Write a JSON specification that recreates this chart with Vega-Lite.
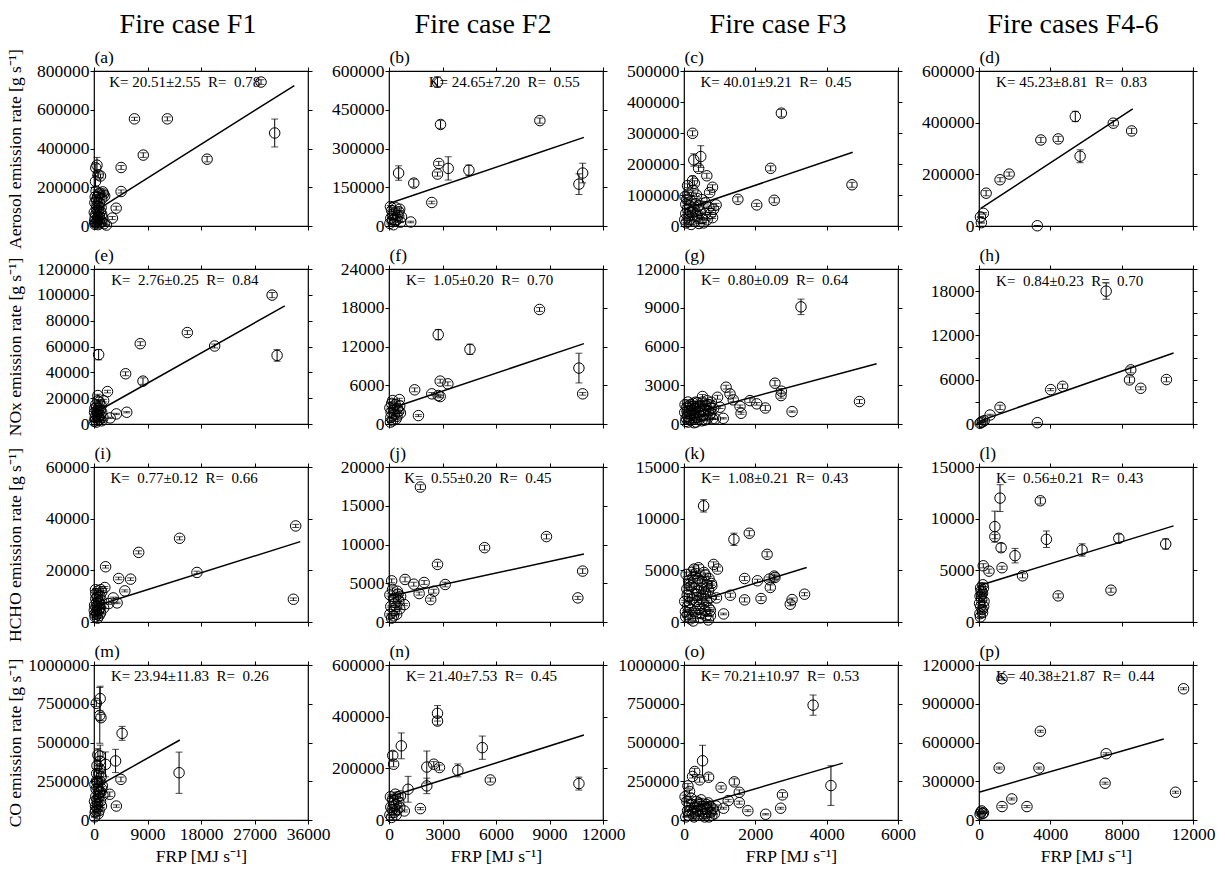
{
"$schema":"https://vega.github.io/schema/vega-lite/v6.json",
"background":"white",
"padding":{"left":5,"top":9,"right":5,"bottom":0},
"config":{"font":"Liberation Serif","view":{"stroke":"black","strokeWidth":1.2},
"axis":{"grid":false,"domain":false,"tickColor":"black","tickSize":4,"tickWidth":1,"labelFont":"Liberation Serif","labelFontSize":17.5,"labelColor":"black","labelPadding":1,"titleFont":"Liberation Serif","titleFontSize":17.5,"titleFontWeight":"normal","titleColor":"black","labelFlush":false,"labelOverlap":false},
"title":{"font":"Liberation Serif","fontSize":28,"fontWeight":"normal","color":"black","anchor":"middle"}},
"datasets":{"d":[
{"p":"a","k":"e","x":28100,"y":743000,"l":731000,"h":755000},
{"p":"a","k":"e","x":30400,"y":480000,"l":408000,"h":552000},
{"p":"a","k":"e","x":19030,"y":345000,"l":331000,"h":359000},
{"p":"a","k":"e","x":12340,"y":553000,"l":543000,"h":563000},
{"p":"a","k":"e","x":6810,"y":553000,"l":545000,"h":561000},
{"p":"a","k":"e","x":8290,"y":366000,"l":354000,"h":378000},
{"p":"a","k":"e","x":4560,"y":302000,"l":292000,"h":312000},
{"p":"a","k":"e","x":4560,"y":178000,"l":170000,"h":186000},
{"p":"a","k":"e","x":3730,"y":92000,"l":82000,"h":102000},
{"p":"a","k":"e","x":3090,"y":41000,"l":33000,"h":49000},
{"p":"a","k":"e","x":500,"y":314000,"l":274000,"h":354000},
{"p":"a","k":"e","x":300,"y":300000,"l":280000,"h":320000},
{"p":"a","k":"e","x":700,"y":264000,"l":249000,"h":279000},
{"p":"a","k":"e","x":1090,"y":258000,"l":248000,"h":268000},
{"p":"a","k":"e","x":1480,"y":176000,"l":168000,"h":184000},
{"p":"a","k":"e","x":1600,"y":165000,"l":159000,"h":171000},
{"p":"a","k":"e","x":1800,"y":155000,"l":149000,"h":161000},
{"p":"a","k":"e","x":1300,"y":140000,"l":135000,"h":145000},
{"p":"a","k":"e","x":900,"y":121000,"l":115000,"h":127000},
{"p":"a","k":"e","x":500,"y":104000,"l":99000,"h":109000},
{"p":"a","k":"e","x":700,"y":80000,"l":75000,"h":85000},
{"p":"a","k":"e","x":300,"y":60000,"l":56000,"h":64000},
{"p":"a","k":"e","x":1300,"y":60000,"l":56000,"h":64000},
{"p":"a","k":"e","x":200,"y":43000,"l":40000,"h":46000},
{"p":"a","k":"e","x":1000,"y":35000,"l":32000,"h":38000},
{"p":"a","k":"e","x":1300,"y":21000,"l":18000,"h":24000},
{"p":"a","k":"e","x":450,"y":18000,"l":16000,"h":20000},
{"p":"a","k":"e","x":150,"y":9000,"l":7000,"h":11000},
{"p":"a","k":"e","x":700,"y":7000,"l":5000,"h":9000},
{"p":"a","k":"e","x":1700,"y":12000,"l":10000,"h":14000},
{"p":"a","k":"e","x":100,"y":25000,"l":23000,"h":27000},
{"p":"a","k":"e","x":900,"y":50000,"l":47000,"h":53000},
{"p":"a","k":"e","x":600,"y":150000,"l":145000,"h":155000},
{"p":"a","k":"e","x":2100,"y":5000,"l":4000,"h":6000},
{"p":"a","k":"e","x":350,"y":180000,"l":174000,"h":186000},
{"p":"a","k":"e","x":250,"y":230000,"l":200000,"h":260000},
{"p":"a","k":"e","x":150,"y":120000,"l":115000,"h":125000},
{"p":"a","k":"e","x":400,"y":90000,"l":86000,"h":94000},
{"p":"a","k":"e","x":800,"y":100000,"l":95000,"h":105000},
{"p":"a","k":"e","x":1100,"y":75000,"l":71000,"h":79000},
{"p":"a","k":"e","x":200,"y":150000,"l":144000,"h":156000},
{"p":"a","k":"e","x":650,"y":45000,"l":42000,"h":48000},
{"p":"a","k":"e","x":1000,"y":15000,"l":13000,"h":17000},
{"p":"a","k":"e","x":550,"y":30000,"l":27000,"h":33000},
{"p":"a","k":"e","x":1200,"y":95000,"l":91000,"h":99000},
{"p":"a","k":"e","x":50,"y":70000,"l":67000,"h":73000},
{"p":"a","k":"e","x":800,"y":165000,"l":159000,"h":171000},
{"p":"a","k":"e","x":400,"y":135000,"l":130000,"h":140000},
{"p":"a","k":"e","x":1500,"y":40000,"l":37000,"h":43000},
{"p":"a","k":"e","x":250,"y":15000,"l":13000,"h":17000},
{"p":"a","k":"e","x":950,"y":170000,"l":164000,"h":176000},
{"p":"a","k":"l","x":600,"y":85000},{"p":"a","k":"l","x":33700,"y":725000},
{"p":"a","k":"t","x":2560,"y":744000,"t":"K= 20.51±2.55\u00a0\u00a0R=\u00a0\u00a00.78"},
{"p":"b","k":"e","x":2720,"y":557000,"l":537000,"h":577000},
{"p":"b","k":"e","x":2890,"y":393000,"l":378000,"h":408000},
{"p":"b","k":"e","x":8460,"y":408000,"l":398000,"h":418000},
{"p":"b","k":"e","x":540,"y":205000,"l":177000,"h":233000},
{"p":"b","k":"e","x":1390,"y":166000,"l":151000,"h":181000},
{"p":"b","k":"e","x":2400,"y":91000,"l":86000,"h":96000},
{"p":"b","k":"e","x":2720,"y":201000,"l":193000,"h":209000},
{"p":"b","k":"e","x":2790,"y":242000,"l":234000,"h":250000},
{"p":"b","k":"e","x":3320,"y":223000,"l":178000,"h":268000},
{"p":"b","k":"e","x":4480,"y":216000,"l":196000,"h":236000},
{"p":"b","k":"e","x":10650,"y":162000,"l":122000,"h":202000},
{"p":"b","k":"e","x":10860,"y":205000,"l":167000,"h":243000},
{"p":"b","k":"e","x":1220,"y":15500,"l":12500,"h":18500},
{"p":"b","k":"e","x":600,"y":65000,"l":60000,"h":70000},
{"p":"b","k":"e","x":500,"y":40000,"l":35000,"h":45000},
{"p":"b","k":"e","x":700,"y":35000,"l":31000,"h":39000},
{"p":"b","k":"e","x":300,"y":50000,"l":46000,"h":54000},
{"p":"b","k":"e","x":150,"y":60000,"l":57000,"h":63000},
{"p":"b","k":"e","x":100,"y":30000,"l":27000,"h":33000},
{"p":"b","k":"e","x":350,"y":20000,"l":17000,"h":23000},
{"p":"b","k":"e","x":50,"y":10000,"l":8000,"h":12000},
{"p":"b","k":"e","x":250,"y":5000,"l":4000,"h":6000},
{"p":"b","k":"e","x":450,"y":25000,"l":22000,"h":28000},
{"p":"b","k":"e","x":200,"y":45000,"l":41000,"h":49000},
{"p":"b","k":"e","x":80,"y":75000,"l":71000,"h":79000},
{"p":"b","k":"e","x":400,"y":70000,"l":66000,"h":74000},
{"p":"b","k":"e","x":650,"y":15000,"l":13000,"h":17000},
{"p":"b","k":"e","x":200,"y":25000,"l":23000,"h":27000},
{"p":"b","k":"e","x":550,"y":55000,"l":51000,"h":59000},
{"p":"b","k":"l","x":0,"y":87000},{"p":"b","k":"l","x":10930,"y":343000},
{"p":"b","k":"t","x":2230,"y":558000,"t":"K= 24.65±7.20\u00a0\u00a0R=\u00a0\u00a00.55"},
{"p":"c","k":"e","x":2730,"y":364000,"l":352000,"h":376000},
{"p":"c","k":"e","x":240,"y":299000,"l":291000,"h":307000},
{"p":"c","k":"e","x":275,"y":213000,"l":193000,"h":233000},
{"p":"c","k":"e","x":470,"y":224000,"l":189000,"h":259000},
{"p":"c","k":"e","x":410,"y":186000,"l":176000,"h":196000},
{"p":"c","k":"e","x":640,"y":162000,"l":154000,"h":170000},
{"p":"c","k":"e","x":240,"y":146000,"l":131000,"h":161000},
{"p":"c","k":"e","x":290,"y":138000,"l":130000,"h":146000},
{"p":"c","k":"e","x":800,"y":125000,"l":117000,"h":133000},
{"p":"c","k":"e","x":720,"y":108000,"l":102000,"h":114000},
{"p":"c","k":"e","x":2430,"y":186000,"l":178000,"h":194000},
{"p":"c","k":"e","x":4710,"y":133000,"l":125000,"h":141000},
{"p":"c","k":"e","x":1510,"y":86000,"l":78000,"h":94000},
{"p":"c","k":"e","x":2040,"y":68000,"l":63000,"h":73000},
{"p":"c","k":"e","x":2530,"y":83000,"l":75000,"h":91000},
{"p":"c","k":"e","x":900,"y":68000,"l":63000,"h":73000},
{"p":"c","k":"e","x":830,"y":54000,"l":50000,"h":58000},
{"p":"c","k":"e","x":800,"y":27000,"l":24000,"h":30000},
{"p":"c","k":"e","x":500,"y":24000,"l":21000,"h":27000},
{"p":"c","k":"e","x":110,"y":103000,"l":98000,"h":108000},
{"p":"c","k":"e","x":80,"y":86000,"l":81000,"h":91000},
{"p":"c","k":"e","x":165,"y":65000,"l":61000,"h":69000},
{"p":"c","k":"e","x":330,"y":72000,"l":67000,"h":77000},
{"p":"c","k":"e","x":50,"y":40000,"l":37000,"h":43000},
{"p":"c","k":"e","x":150,"y":20000,"l":18000,"h":22000},
{"p":"c","k":"e","x":250,"y":45000,"l":42000,"h":48000},
{"p":"c","k":"e","x":380,"y":30000,"l":27000,"h":33000},
{"p":"c","k":"e","x":60,"y":10000,"l":9000,"h":11000},
{"p":"c","k":"e","x":200,"y":5000,"l":4000,"h":6000},
{"p":"c","k":"e","x":450,"y":50000,"l":46000,"h":54000},
{"p":"c","k":"e","x":600,"y":40000,"l":37000,"h":43000},
{"p":"c","k":"e","x":100,"y":55000,"l":52000,"h":58000},
{"p":"c","k":"e","x":300,"y":15000,"l":13000,"h":17000},
{"p":"c","k":"e","x":550,"y":10000,"l":9000,"h":11000},
{"p":"c","k":"e","x":30,"y":95000,"l":91000,"h":99000},
{"p":"c","k":"e","x":700,"y":60000,"l":56000,"h":64000},
{"p":"c","k":"e","x":350,"y":100000,"l":95000,"h":105000},
{"p":"c","k":"e","x":100,"y":130000,"l":124000,"h":136000},
{"p":"c","k":"e","x":200,"y":80000,"l":75000,"h":85000},
{"p":"c","k":"e","x":400,"y":65000,"l":61000,"h":69000},
{"p":"c","k":"e","x":500,"y":85000,"l":80000,"h":90000},
{"p":"c","k":"e","x":650,"y":20000,"l":18000,"h":22000},
{"p":"c","k":"e","x":120,"y":30000,"l":28000,"h":32000},
{"p":"c","k":"e","x":280,"y":55000,"l":52000,"h":58000},
{"p":"c","k":"e","x":420,"y":8000,"l":7000,"h":9000},
{"p":"c","k":"e","x":750,"y":40000,"l":37000,"h":43000},
{"p":"c","k":"e","x":50,"y":70000,"l":66000,"h":74000},
{"p":"c","k":"e","x":350,"y":35000,"l":32000,"h":38000},
{"p":"c","k":"e","x":250,"y":115000,"l":109000,"h":121000},
{"p":"c","k":"e","x":180,"y":45000,"l":42000,"h":48000},
{"p":"c","k":"e","x":600,"y":75000,"l":71000,"h":79000},
{"p":"c","k":"e","x":20,"y":20000,"l":18000,"h":22000},
{"p":"c","k":"l","x":100,"y":57000},{"p":"c","k":"l","x":4730,"y":238000},
{"p":"c","k":"t","x":462,"y":465000,"t":"K= 40.01±9.21\u00a0\u00a0R=\u00a0\u00a00.45"},
{"p":"d","k":"e","x":244,"y":49000,"l":46000,"h":52000},
{"p":"d","k":"e","x":133,"y":13000,"l":11000,"h":15000},
{"p":"d","k":"e","x":400,"y":127000,"l":117000,"h":137000},
{"p":"d","k":"e","x":1180,"y":179000,"l":171000,"h":187000},
{"p":"d","k":"e","x":1690,"y":201000,"l":193000,"h":209000},
{"p":"d","k":"e","x":3470,"y":333000,"l":323000,"h":343000},
{"p":"d","k":"e","x":4440,"y":337000,"l":327000,"h":347000},
{"p":"d","k":"e","x":5400,"y":424000,"l":404000,"h":444000},
{"p":"d","k":"e","x":5670,"y":270000,"l":245000,"h":295000},
{"p":"d","k":"e","x":7530,"y":398000,"l":388000,"h":408000},
{"p":"d","k":"e","x":8560,"y":368000,"l":358000,"h":378000},
{"p":"d","k":"e","x":3270,"y":1000,"l":0,"h":2000},
{"p":"d","k":"e","x":80,"y":35000,"l":33000,"h":37000},
{"p":"d","k":"l","x":100,"y":68000},{"p":"d","k":"l","x":8620,"y":453000},
{"p":"d","k":"t","x":960,"y":558000,"t":"K= 45.23±8.81\u00a0\u00a0R=\u00a0\u00a00.83"},
{"p":"e","k":"e","x":29960,"y":99800,"l":97800,"h":101800},
{"p":"e","k":"e","x":30800,"y":53100,"l":48600,"h":57600},
{"p":"e","k":"e","x":15700,"y":70800,"l":69300,"h":72300},
{"p":"e","k":"e","x":20300,"y":60400,"l":58900,"h":61900},
{"p":"e","k":"e","x":7780,"y":62200,"l":60700,"h":63700},
{"p":"e","k":"e","x":5320,"y":38900,"l":37400,"h":40400},
{"p":"e","k":"e","x":8240,"y":33200,"l":30700,"h":35700},
{"p":"e","k":"e","x":780,"y":53700,"l":49700,"h":57700},
{"p":"e","k":"e","x":2270,"y":25100,"l":24100,"h":26100},
{"p":"e","k":"e","x":1620,"y":18100,"l":17100,"h":19100},
{"p":"e","k":"e","x":650,"y":22000,"l":21000,"h":23000},
{"p":"e","k":"e","x":5510,"y":9100,"l":8600,"h":9600},
{"p":"e","k":"e","x":3760,"y":7800,"l":7300,"h":8300},
{"p":"e","k":"e","x":2720,"y":4700,"l":4200,"h":5200},
{"p":"e","k":"e","x":1300,"y":9000,"l":8500,"h":9500},
{"p":"e","k":"e","x":300,"y":15000,"l":14200,"h":15800},
{"p":"e","k":"e","x":800,"y":12000,"l":11300,"h":12700},
{"p":"e","k":"e","x":500,"y":10000,"l":9400,"h":10600},
{"p":"e","k":"e","x":1000,"y":7000,"l":6500,"h":7500},
{"p":"e","k":"e","x":200,"y":5000,"l":4600,"h":5400},
{"p":"e","k":"e","x":700,"y":3000,"l":2700,"h":3300},
{"p":"e","k":"e","x":400,"y":1500,"l":1300,"h":1700},
{"p":"e","k":"e","x":1200,"y":14000,"l":13300,"h":14700},
{"p":"e","k":"e","x":100,"y":9000,"l":8500,"h":9500},
{"p":"e","k":"e","x":900,"y":17000,"l":16200,"h":17800},
{"p":"e","k":"e","x":1500,"y":5000,"l":4600,"h":5400},
{"p":"e","k":"e","x":600,"y":8000,"l":7500,"h":8500},
{"p":"e","k":"e","x":150,"y":12000,"l":11400,"h":12600},
{"p":"e","k":"e","x":350,"y":7000,"l":6600,"h":7400},
{"p":"e","k":"e","x":650,"y":18000,"l":17100,"h":18900},
{"p":"e","k":"e","x":1100,"y":11000,"l":10400,"h":11600},
{"p":"e","k":"e","x":250,"y":3000,"l":2800,"h":3200},
{"p":"e","k":"e","x":800,"y":5500,"l":5100,"h":5900},
{"p":"e","k":"e","x":450,"y":13000,"l":12300,"h":13700},
{"p":"e","k":"e","x":1300,"y":2500,"l":2300,"h":2700},
{"p":"e","k":"e","x":50,"y":2000,"l":1900,"h":2100},
{"p":"e","k":"e","x":950,"y":3500,"l":3200,"h":3800},
{"p":"e","k":"l","x":320,"y":9100},{"p":"e","k":"l","x":32100,"y":91500},
{"p":"e","k":"t","x":2900,"y":111600,"t":"K=\u00a0\u00a02.76±0.25\u00a0\u00a0R=\u00a0\u00a00.84"},
{"p":"f","k":"e","x":8440,"y":17730,"l":17430,"h":18030},
{"p":"f","k":"e","x":2760,"y":13840,"l":13040,"h":14640},
{"p":"f","k":"e","x":4540,"y":11560,"l":10760,"h":12360},
{"p":"f","k":"e","x":2870,"y":6640,"l":6340,"h":6940},
{"p":"f","k":"e","x":3300,"y":6220,"l":5920,"h":6520},
{"p":"f","k":"e","x":2760,"y":4410,"l":4210,"h":4610},
{"p":"f","k":"e","x":2400,"y":4670,"l":4470,"h":4870},
{"p":"f","k":"e","x":2870,"y":4250,"l":4050,"h":4450},
{"p":"f","k":"e","x":10650,"y":8660,"l":6360,"h":10960},
{"p":"f","k":"e","x":10860,"y":4670,"l":4470,"h":4870},
{"p":"f","k":"e","x":1440,"y":5290,"l":4990,"h":5590},
{"p":"f","k":"e","x":1650,"y":1300,"l":1150,"h":1450},
{"p":"f","k":"e","x":580,"y":3780,"l":3580,"h":3980},
{"p":"f","k":"e","x":210,"y":3630,"l":3430,"h":3830},
{"p":"f","k":"e","x":470,"y":2440,"l":2290,"h":2590},
{"p":"f","k":"e","x":640,"y":1710,"l":1610,"h":1810},
{"p":"f","k":"e","x":100,"y":1000,"l":900,"h":1100},
{"p":"f","k":"e","x":300,"y":1500,"l":1400,"h":1600},
{"p":"f","k":"e","x":50,"y":2500,"l":2350,"h":2650},
{"p":"f","k":"e","x":200,"y":500,"l":450,"h":550},
{"p":"f","k":"e","x":400,"y":800,"l":700,"h":900},
{"p":"f","k":"e","x":150,"y":3200,"l":3050,"h":3350},
{"p":"f","k":"e","x":550,"y":2000,"l":1900,"h":2100},
{"p":"f","k":"e","x":80,"y":300,"l":250,"h":350},
{"p":"f","k":"e","x":250,"y":2200,"l":2080,"h":2320},
{"p":"f","k":"e","x":450,"y":1200,"l":1120,"h":1280},
{"p":"f","k":"e","x":350,"y":3000,"l":2850,"h":3150},
{"p":"f","k":"e","x":120,"y":1800,"l":1700,"h":1900},
{"p":"f","k":"e","x":600,"y":2800,"l":2650,"h":2950},
{"p":"f","k":"l","x":0,"y":2330},{"p":"f","k":"l","x":10930,"y":12440},
{"p":"f","k":"t","x":960,"y":22320,"t":"K=\u00a0\u00a01.05±0.20\u00a0\u00a0R=\u00a0\u00a00.70"},
{"p":"g","k":"e","x":3280,"y":9070,"l":8470,"h":9670},
{"p":"g","k":"e","x":2550,"y":3160,"l":2960,"h":3360},
{"p":"g","k":"e","x":2730,"y":2540,"l":2340,"h":2740},
{"p":"g","k":"e","x":2720,"y":2200,"l":2000,"h":2400},
{"p":"g","k":"e","x":3030,"y":960,"l":910,"h":1010},
{"p":"g","k":"e","x":4920,"y":1740,"l":1590,"h":1890},
{"p":"g","k":"e","x":2280,"y":1240,"l":1040,"h":1440},
{"p":"g","k":"e","x":2040,"y":1560,"l":1460,"h":1660},
{"p":"g","k":"e","x":1850,"y":1810,"l":1660,"h":1960},
{"p":"g","k":"e","x":1570,"y":1370,"l":1270,"h":1470},
{"p":"g","k":"e","x":1600,"y":830,"l":750,"h":910},
{"p":"g","k":"e","x":1180,"y":2850,"l":2700,"h":3000},
{"p":"g","k":"e","x":1290,"y":2330,"l":2180,"h":2480},
{"p":"g","k":"e","x":1380,"y":1870,"l":1720,"h":2020},
{"p":"g","k":"e","x":940,"y":2070,"l":1920,"h":2220},
{"p":"g","k":"e","x":1010,"y":1300,"l":1200,"h":1400},
{"p":"g","k":"e","x":1100,"y":440,"l":390,"h":490},
{"p":"g","k":"e","x":880,"y":390,"l":340,"h":440},
{"p":"g","k":"e","x":520,"y":2130,"l":1980,"h":2280},
{"p":"g","k":"e","x":330,"y":1690,"l":1590,"h":1790},
{"p":"g","k":"e","x":770,"y":1690,"l":1590,"h":1790},
{"p":"g","k":"e","x":50,"y":200,"l":180,"h":220},
{"p":"g","k":"e","x":100,"y":600,"l":560,"h":640},
{"p":"g","k":"e","x":150,"y":1000,"l":940,"h":1060},
{"p":"g","k":"e","x":200,"y":300,"l":270,"h":330},
{"p":"g","k":"e","x":250,"y":800,"l":750,"h":850},
{"p":"g","k":"e","x":300,"y":1200,"l":1120,"h":1280},
{"p":"g","k":"e","x":350,"y":500,"l":460,"h":540},
{"p":"g","k":"e","x":400,"y":900,"l":840,"h":960},
{"p":"g","k":"e","x":450,"y":1400,"l":1320,"h":1480},
{"p":"g","k":"e","x":500,"y":250,"l":220,"h":280},
{"p":"g","k":"e","x":550,"y":700,"l":650,"h":750},
{"p":"g","k":"e","x":600,"y":1100,"l":1030,"h":1170},
{"p":"g","k":"e","x":650,"y":400,"l":360,"h":440},
{"p":"g","k":"e","x":700,"y":1500,"l":1410,"h":1590},
{"p":"g","k":"e","x":750,"y":850,"l":790,"h":910},
{"p":"g","k":"e","x":80,"y":1300,"l":1220,"h":1380},
{"p":"g","k":"e","x":120,"y":150,"l":130,"h":170},
{"p":"g","k":"e","x":180,"y":1500,"l":1410,"h":1590},
{"p":"g","k":"e","x":280,"y":100,"l":80,"h":120},
{"p":"g","k":"e","x":380,"y":1650,"l":1550,"h":1750},
{"p":"g","k":"e","x":420,"y":350,"l":320,"h":380},
{"p":"g","k":"e","x":20,"y":900,"l":850,"h":950},
{"p":"g","k":"e","x":230,"y":1350,"l":1270,"h":1430},
{"p":"g","k":"e","x":520,"y":1700,"l":1600,"h":1800},
{"p":"g","k":"e","x":830,"y":1200,"l":1120,"h":1280},
{"p":"g","k":"e","x":650,"y":1800,"l":1700,"h":1900},
{"p":"g","k":"e","x":60,"y":450,"l":420,"h":480},
{"p":"g","k":"e","x":140,"y":800,"l":750,"h":850},
{"p":"g","k":"e","x":220,"y":1100,"l":1030,"h":1170},
{"p":"g","k":"e","x":310,"y":700,"l":650,"h":750},
{"p":"g","k":"e","x":390,"y":1300,"l":1220,"h":1380},
{"p":"g","k":"e","x":470,"y":600,"l":560,"h":640},
{"p":"g","k":"e","x":540,"y":1000,"l":940,"h":1060},
{"p":"g","k":"e","x":610,"y":1450,"l":1360,"h":1540},
{"p":"g","k":"e","x":690,"y":1000,"l":940,"h":1060},
{"p":"g","k":"e","x":760,"y":1250,"l":1170,"h":1330},
{"p":"g","k":"e","x":30,"y":1500,"l":1410,"h":1590},
{"p":"g","k":"e","x":110,"y":1700,"l":1600,"h":1800},
{"p":"g","k":"e","x":260,"y":1600,"l":1500,"h":1700},
{"p":"g","k":"e","x":340,"y":150,"l":130,"h":170},
{"p":"g","k":"e","x":460,"y":1100,"l":1030,"h":1170},
{"p":"g","k":"e","x":580,"y":300,"l":270,"h":330},
{"p":"g","k":"e","x":720,"y":700,"l":650,"h":750},
{"p":"g","k":"e","x":800,"y":400,"l":360,"h":440},
{"p":"g","k":"e","x":160,"y":400,"l":370,"h":430},
{"p":"g","k":"e","x":90,"y":1000,"l":940,"h":1060},
{"p":"g","k":"l","x":280,"y":860},{"p":"g","k":"l","x":5400,"y":4670},
{"p":"g","k":"t","x":474,"y":11160,"t":"K=\u00a0\u00a00.80±0.09\u00a0\u00a0R=\u00a0\u00a00.64"},
{"p":"h","k":"e","x":7130,"y":18000,"l":16900,"h":19100},
{"p":"h","k":"e","x":8510,"y":7330,"l":6930,"h":7730},
{"p":"h","k":"e","x":8440,"y":5970,"l":5570,"h":6370},
{"p":"h","k":"e","x":9070,"y":4840,"l":4640,"h":5040},
{"p":"h","k":"e","x":10510,"y":6020,"l":5720,"h":6320},
{"p":"h","k":"e","x":4020,"y":4660,"l":4510,"h":4810},
{"p":"h","k":"e","x":4690,"y":5110,"l":4810,"h":5410},
{"p":"h","k":"e","x":1180,"y":2260,"l":1960,"h":2560},
{"p":"h","k":"e","x":620,"y":1220,"l":1120,"h":1320},
{"p":"h","k":"e","x":290,"y":450,"l":400,"h":500},
{"p":"h","k":"e","x":110,"y":230,"l":200,"h":260},
{"p":"h","k":"e","x":3270,"y":180,"l":150,"h":210},
{"p":"h","k":"e","x":60,"y":100,"l":80,"h":120},
{"p":"h","k":"e","x":200,"y":300,"l":270,"h":330},
{"p":"h","k":"l","x":70,"y":450},{"p":"h","k":"l","x":10910,"y":9630},
{"p":"h","k":"t","x":960,"y":19350,"t":"K=\u00a0\u00a00.84±0.23\u00a0\u00a0R=\u00a0\u00a00.70"},
{"p":"i","k":"e","x":33930,"y":37190,"l":36590,"h":37790},
{"p":"i","k":"e","x":33540,"y":8810,"l":8310,"h":9310},
{"p":"i","k":"e","x":14400,"y":32400,"l":31800,"h":33000},
{"p":"i","k":"e","x":7520,"y":26950,"l":26350,"h":27550},
{"p":"i","k":"e","x":17320,"y":19180,"l":18680,"h":19680},
{"p":"i","k":"e","x":1950,"y":21380,"l":20880,"h":21880},
{"p":"i","k":"e","x":4150,"y":16850,"l":16350,"h":17350},
{"p":"i","k":"e","x":6160,"y":16590,"l":16090,"h":17090},
{"p":"i","k":"e","x":5190,"y":12050,"l":11650,"h":12450},
{"p":"i","k":"e","x":1820,"y":13350,"l":12950,"h":13750},
{"p":"i","k":"e","x":3890,"y":7390,"l":7090,"h":7690},
{"p":"i","k":"e","x":3240,"y":9330,"l":9030,"h":9630},
{"p":"i","k":"e","x":2470,"y":7130,"l":6830,"h":7430},
{"p":"i","k":"e","x":1300,"y":11660,"l":11260,"h":12060},
{"p":"i","k":"e","x":1620,"y":5440,"l":5140,"h":5740},
{"p":"i","k":"e","x":200,"y":2000,"l":1900,"h":2100},
{"p":"i","k":"e","x":400,"y":4000,"l":3800,"h":4200},
{"p":"i","k":"e","x":600,"y":6000,"l":5800,"h":6200},
{"p":"i","k":"e","x":800,"y":8000,"l":7700,"h":8300},
{"p":"i","k":"e","x":1000,"y":10000,"l":9700,"h":10300},
{"p":"i","k":"e","x":300,"y":9000,"l":8700,"h":9300},
{"p":"i","k":"e","x":700,"y":12000,"l":11600,"h":12400},
{"p":"i","k":"e","x":500,"y":3000,"l":2900,"h":3100},
{"p":"i","k":"e","x":900,"y":5000,"l":4800,"h":5200},
{"p":"i","k":"e","x":100,"y":6500,"l":6300,"h":6700},
{"p":"i","k":"e","x":1200,"y":8500,"l":8200,"h":8800},
{"p":"i","k":"e","x":300,"y":11000,"l":10600,"h":11400},
{"p":"i","k":"e","x":600,"y":1500,"l":1400,"h":1600},
{"p":"i","k":"e","x":1100,"y":3500,"l":3350,"h":3650},
{"p":"i","k":"e","x":50,"y":4500,"l":4300,"h":4700},
{"p":"i","k":"e","x":150,"y":3000,"l":2900,"h":3100},
{"p":"i","k":"e","x":350,"y":6000,"l":5800,"h":6200},
{"p":"i","k":"e","x":550,"y":9500,"l":9200,"h":9800},
{"p":"i","k":"e","x":750,"y":4500,"l":4300,"h":4700},
{"p":"i","k":"e","x":950,"y":7000,"l":6700,"h":7300},
{"p":"i","k":"e","x":1150,"y":12500,"l":12100,"h":12900},
{"p":"i","k":"e","x":250,"y":12500,"l":12100,"h":12900},
{"p":"i","k":"e","x":450,"y":7500,"l":7200,"h":7800},
{"p":"i","k":"e","x":850,"y":2500,"l":2400,"h":2600},
{"p":"i","k":"e","x":1050,"y":5500,"l":5300,"h":5700},
{"p":"i","k":"l","x":650,"y":6480},{"p":"i","k":"l","x":34700,"y":31100},
{"p":"i","k":"t","x":2770,"y":55800,"t":"K=\u00a0\u00a00.77±0.12\u00a0\u00a0R=\u00a0\u00a00.66"},
{"p":"j","k":"e","x":1760,"y":17410,"l":17110,"h":17710},
{"p":"j","k":"e","x":8830,"y":11020,"l":10720,"h":11320},
{"p":"j","k":"e","x":5360,"y":9590,"l":9290,"h":9890},
{"p":"j","k":"e","x":2720,"y":7430,"l":7130,"h":7730},
{"p":"j","k":"e","x":10860,"y":6570,"l":6270,"h":6870},
{"p":"j","k":"e","x":10590,"y":3110,"l":2910,"h":3310},
{"p":"j","k":"e","x":3150,"y":4840,"l":4540,"h":5140},
{"p":"j","k":"e","x":1970,"y":5100,"l":4850,"h":5350},
{"p":"j","k":"e","x":1390,"y":4880,"l":4630,"h":5130},
{"p":"j","k":"e","x":900,"y":5490,"l":5190,"h":5790},
{"p":"j","k":"e","x":150,"y":5310,"l":5060,"h":5560},
{"p":"j","k":"e","x":1690,"y":3670,"l":3470,"h":3870},
{"p":"j","k":"e","x":2510,"y":3970,"l":3720,"h":4220},
{"p":"j","k":"e","x":2340,"y":2890,"l":2690,"h":3090},
{"p":"j","k":"e","x":430,"y":990,"l":890,"h":1090},
{"p":"j","k":"e","x":860,"y":2250,"l":2100,"h":2400},
{"p":"j","k":"e","x":470,"y":3970,"l":3770,"h":4170},
{"p":"j","k":"e","x":100,"y":2000,"l":1900,"h":2100},
{"p":"j","k":"e","x":250,"y":3000,"l":2850,"h":3150},
{"p":"j","k":"e","x":50,"y":1000,"l":920,"h":1080},
{"p":"j","k":"e","x":350,"y":2500,"l":2380,"h":2620},
{"p":"j","k":"e","x":200,"y":4200,"l":4000,"h":4400},
{"p":"j","k":"e","x":550,"y":2700,"l":2550,"h":2850},
{"p":"j","k":"e","x":150,"y":500,"l":450,"h":550},
{"p":"j","k":"e","x":300,"y":1500,"l":1400,"h":1600},
{"p":"j","k":"e","x":650,"y":3300,"l":3150,"h":3450},
{"p":"j","k":"e","x":50,"y":3500,"l":3350,"h":3650},
{"p":"j","k":"e","x":400,"y":2000,"l":1900,"h":2100},
{"p":"j","k":"e","x":500,"y":3600,"l":3450,"h":3750},
{"p":"j","k":"e","x":250,"y":800,"l":740,"h":860},
{"p":"j","k":"e","x":600,"y":1700,"l":1600,"h":1800},
{"p":"j","k":"l","x":0,"y":3330},{"p":"j","k":"l","x":10930,"y":8770},
{"p":"j","k":"t","x":850,"y":18600,"t":"K=\u00a0\u00a00.55±0.20\u00a0\u00a0R=\u00a0\u00a00.45"},
{"p":"k","k":"e","x":550,"y":11240,"l":10640,"h":11840},
{"p":"k","k":"e","x":1400,"y":8000,"l":7400,"h":8600},
{"p":"k","k":"e","x":1830,"y":8590,"l":8340,"h":8840},
{"p":"k","k":"e","x":2330,"y":6550,"l":6300,"h":6800},
{"p":"k","k":"e","x":830,"y":5570,"l":5320,"h":5820},
{"p":"k","k":"e","x":940,"y":5120,"l":4920,"h":5320},
{"p":"k","k":"e","x":280,"y":5120,"l":4820,"h":5420},
{"p":"k","k":"e","x":410,"y":5250,"l":4950,"h":5550},
{"p":"k","k":"e","x":600,"y":4540,"l":4340,"h":4740},
{"p":"k","k":"e","x":770,"y":3730,"l":3530,"h":3930},
{"p":"k","k":"e","x":1700,"y":4210,"l":4010,"h":4410},
{"p":"k","k":"e","x":2060,"y":3990,"l":3840,"h":4140},
{"p":"k","k":"e","x":2390,"y":4150,"l":3950,"h":4350},
{"p":"k","k":"e","x":2530,"y":4440,"l":4240,"h":4640},
{"p":"k","k":"e","x":2550,"y":4310,"l":4110,"h":4510},
{"p":"k","k":"e","x":2420,"y":3340,"l":3090,"h":3590},
{"p":"k","k":"e","x":1300,"y":2590,"l":2390,"h":2790},
{"p":"k","k":"e","x":1700,"y":2140,"l":1940,"h":2340},
{"p":"k","k":"e","x":2160,"y":2270,"l":2070,"h":2470},
{"p":"k","k":"e","x":2980,"y":1720,"l":1570,"h":1870},
{"p":"k","k":"e","x":3030,"y":2170,"l":2020,"h":2320},
{"p":"k","k":"e","x":3380,"y":2690,"l":2540,"h":2840},
{"p":"k","k":"e","x":1110,"y":780,"l":700,"h":860},
{"p":"k","k":"e","x":910,"y":2330,"l":2180,"h":2480},
{"p":"k","k":"e","x":740,"y":1130,"l":1030,"h":1230},
{"p":"k","k":"e","x":50,"y":500,"l":450,"h":550},
{"p":"k","k":"e","x":100,"y":1500,"l":1400,"h":1600},
{"p":"k","k":"e","x":150,"y":2500,"l":2350,"h":2650},
{"p":"k","k":"e","x":200,"y":3500,"l":3300,"h":3700},
{"p":"k","k":"e","x":250,"y":4300,"l":4100,"h":4500},
{"p":"k","k":"e","x":300,"y":1000,"l":920,"h":1080},
{"p":"k","k":"e","x":350,"y":2000,"l":1880,"h":2120},
{"p":"k","k":"e","x":400,"y":3000,"l":2850,"h":3150},
{"p":"k","k":"e","x":450,"y":4000,"l":3800,"h":4200},
{"p":"k","k":"e","x":500,"y":800,"l":740,"h":860},
{"p":"k","k":"e","x":550,"y":1800,"l":1700,"h":1900},
{"p":"k","k":"e","x":600,"y":2800,"l":2650,"h":2950},
{"p":"k","k":"e","x":650,"y":3600,"l":3420,"h":3780},
{"p":"k","k":"e","x":700,"y":1300,"l":1200,"h":1400},
{"p":"k","k":"e","x":750,"y":2400,"l":2280,"h":2520},
{"p":"k","k":"e","x":80,"y":3200,"l":3050,"h":3350},
{"p":"k","k":"e","x":180,"y":300,"l":260,"h":340},
{"p":"k","k":"e","x":320,"y":4700,"l":4500,"h":4900},
{"p":"k","k":"e","x":480,"y":2300,"l":2180,"h":2420},
{"p":"k","k":"e","x":620,"y":600,"l":550,"h":650},
{"p":"k","k":"e","x":20,"y":2000,"l":1900,"h":2100},
{"p":"k","k":"e","x":130,"y":4000,"l":3800,"h":4200},
{"p":"k","k":"e","x":420,"y":1200,"l":1120,"h":1280},
{"p":"k","k":"e","x":560,"y":4800,"l":4550,"h":5050},
{"p":"k","k":"e","x":680,"y":200,"l":170,"h":230},
{"p":"k","k":"e","x":40,"y":1000,"l":920,"h":1080},
{"p":"k","k":"e","x":90,"y":2600,"l":2450,"h":2750},
{"p":"k","k":"e","x":140,"y":3600,"l":3400,"h":3800},
{"p":"k","k":"e","x":190,"y":1200,"l":1120,"h":1280},
{"p":"k","k":"e","x":240,"y":2200,"l":2080,"h":2320},
{"p":"k","k":"e","x":290,"y":3300,"l":3130,"h":3470},
{"p":"k","k":"e","x":340,"y":800,"l":740,"h":860},
{"p":"k","k":"e","x":390,"y":4200,"l":4000,"h":4400},
{"p":"k","k":"e","x":440,"y":1600,"l":1500,"h":1700},
{"p":"k","k":"e","x":490,"y":3200,"l":3040,"h":3360},
{"p":"k","k":"e","x":540,"y":2600,"l":2460,"h":2740},
{"p":"k","k":"e","x":590,"y":1100,"l":1020,"h":1180},
{"p":"k","k":"e","x":640,"y":2000,"l":1890,"h":2110},
{"p":"k","k":"e","x":690,"y":3100,"l":2940,"h":3260},
{"p":"k","k":"e","x":740,"y":600,"l":550,"h":650},
{"p":"k","k":"e","x":780,"y":3500,"l":3320,"h":3680},
{"p":"k","k":"e","x":60,"y":4600,"l":4380,"h":4820},
{"p":"k","k":"e","x":110,"y":700,"l":650,"h":750},
{"p":"k","k":"e","x":210,"y":4800,"l":4560,"h":5040},
{"p":"k","k":"e","x":360,"y":2700,"l":2560,"h":2840},
{"p":"k","k":"e","x":460,"y":400,"l":360,"h":440},
{"p":"k","k":"e","x":520,"y":3900,"l":3700,"h":4100},
{"p":"k","k":"e","x":700,"y":4200,"l":3990,"h":4410},
{"p":"k","k":"e","x":160,"y":1900,"l":1800,"h":2000},
{"p":"k","k":"e","x":260,"y":100,"l":80,"h":120},
{"p":"k","k":"l","x":700,"y":2370},{"p":"k","k":"l","x":3440,"y":5280},
{"p":"k","k":"t","x":474,"y":13950,"t":"K=\u00a0\u00a01.08±0.21\u00a0\u00a0R=\u00a0\u00a00.43"},
{"p":"l","k":"e","x":1180,"y":11990,"l":10690,"h":13290},
{"p":"l","k":"e","x":3440,"y":11730,"l":11430,"h":12030},
{"p":"l","k":"e","x":890,"y":9230,"l":7730,"h":10730},
{"p":"l","k":"e","x":890,"y":8260,"l":8060,"h":8460},
{"p":"l","k":"e","x":1240,"y":7190,"l":6790,"h":7590},
{"p":"l","k":"e","x":2020,"y":6420,"l":5720,"h":7120},
{"p":"l","k":"e","x":3780,"y":8000,"l":7200,"h":8800},
{"p":"l","k":"e","x":5780,"y":6970,"l":6370,"h":7570},
{"p":"l","k":"e","x":7840,"y":8100,"l":7700,"h":8500},
{"p":"l","k":"e","x":10470,"y":7550,"l":7050,"h":8050},
{"p":"l","k":"e","x":2440,"y":4470,"l":4270,"h":4670},
{"p":"l","k":"e","x":1290,"y":5250,"l":5100,"h":5400},
{"p":"l","k":"e","x":560,"y":4920,"l":4720,"h":5120},
{"p":"l","k":"e","x":240,"y":5440,"l":5240,"h":5640},
{"p":"l","k":"e","x":4440,"y":2530,"l":2330,"h":2730},
{"p":"l","k":"e","x":7400,"y":3080,"l":2880,"h":3280},
{"p":"l","k":"e","x":50,"y":800,"l":750,"h":850},
{"p":"l","k":"e","x":100,"y":1500,"l":1420,"h":1580},
{"p":"l","k":"e","x":150,"y":2200,"l":2100,"h":2300},
{"p":"l","k":"e","x":200,"y":2800,"l":2680,"h":2920},
{"p":"l","k":"e","x":250,"y":3300,"l":3150,"h":3450},
{"p":"l","k":"e","x":120,"y":3000,"l":2850,"h":3150},
{"p":"l","k":"e","x":60,"y":2500,"l":2400,"h":2600},
{"p":"l","k":"e","x":280,"y":2000,"l":1900,"h":2100},
{"p":"l","k":"e","x":180,"y":1200,"l":1140,"h":1260},
{"p":"l","k":"e","x":220,"y":3600,"l":3450,"h":3750},
{"p":"l","k":"e","x":80,"y":500,"l":460,"h":540},
{"p":"l","k":"e","x":30,"y":1800,"l":1710,"h":1890},
{"p":"l","k":"e","x":140,"y":2600,"l":2480,"h":2720},
{"p":"l","k":"e","x":260,"y":1500,"l":1420,"h":1580},
{"p":"l","k":"e","x":90,"y":3300,"l":3150,"h":3450},
{"p":"l","k":"e","x":200,"y":900,"l":850,"h":950},
{"p":"l","k":"l","x":70,"y":3560},{"p":"l","k":"l","x":10910,"y":9300},
{"p":"l","k":"t","x":960,"y":13950,"t":"K=\u00a0\u00a00.56±0.21\u00a0\u00a0R=\u00a0\u00a00.43"},
{"p":"m","k":"e","x":14310,"y":305000,"l":172000,"h":438000},
{"p":"m","k":"e","x":4730,"y":559000,"l":514000,"h":604000},
{"p":"m","k":"e","x":3630,"y":381000,"l":306000,"h":456000},
{"p":"m","k":"e","x":4530,"y":262000,"l":247000,"h":277000},
{"p":"m","k":"e","x":2650,"y":166000,"l":151000,"h":181000},
{"p":"m","k":"e","x":3760,"y":90000,"l":82000,"h":98000},
{"p":"m","k":"e","x":1040,"y":783000,"l":703000,"h":863000},
{"p":"m","k":"e","x":970,"y":675000,"l":495000,"h":855000},
{"p":"m","k":"e","x":1170,"y":660000,"l":640000,"h":680000},
{"p":"m","k":"e","x":390,"y":753000,"l":733000,"h":773000},
{"p":"m","k":"e","x":1040,"y":413000,"l":343000,"h":483000},
{"p":"m","k":"e","x":1940,"y":359000,"l":279000,"h":439000},
{"p":"m","k":"e","x":200,"y":50000,"l":45000,"h":55000},
{"p":"m","k":"e","x":300,"y":150000,"l":140000,"h":160000},
{"p":"m","k":"e","x":400,"y":250000,"l":230000,"h":270000},
{"p":"m","k":"e","x":500,"y":350000,"l":320000,"h":380000},
{"p":"m","k":"e","x":600,"y":100000,"l":92000,"h":108000},
{"p":"m","k":"e","x":700,"y":200000,"l":185000,"h":215000},
{"p":"m","k":"e","x":800,"y":300000,"l":275000,"h":325000},
{"p":"m","k":"e","x":900,"y":180000,"l":168000,"h":192000},
{"p":"m","k":"e","x":1000,"y":250000,"l":230000,"h":270000},
{"p":"m","k":"e","x":1100,"y":120000,"l":110000,"h":130000},
{"p":"m","k":"e","x":1200,"y":280000,"l":260000,"h":300000},
{"p":"m","k":"e","x":1300,"y":200000,"l":185000,"h":215000},
{"p":"m","k":"e","x":1400,"y":220000,"l":200000,"h":240000},
{"p":"m","k":"e","x":100,"y":20000,"l":18000,"h":22000},
{"p":"m","k":"e","x":250,"y":90000,"l":84000,"h":96000},
{"p":"m","k":"e","x":450,"y":300000,"l":270000,"h":330000},
{"p":"m","k":"e","x":650,"y":420000,"l":380000,"h":460000},
{"p":"m","k":"e","x":1500,"y":160000,"l":145000,"h":175000},
{"p":"m","k":"e","x":150,"y":230000,"l":210000,"h":250000},
{"p":"m","k":"e","x":550,"y":80000,"l":74000,"h":86000},
{"p":"m","k":"e","x":80,"y":120000,"l":110000,"h":130000},
{"p":"m","k":"e","x":350,"y":200000,"l":185000,"h":215000},
{"p":"m","k":"e","x":600,"y":250000,"l":230000,"h":270000},
{"p":"m","k":"e","x":750,"y":150000,"l":138000,"h":162000},
{"p":"m","k":"e","x":950,"y":330000,"l":305000,"h":355000},
{"p":"m","k":"e","x":1150,"y":180000,"l":168000,"h":192000},
{"p":"m","k":"e","x":300,"y":60000,"l":55000,"h":65000},
{"p":"m","k":"e","x":500,"y":130000,"l":120000,"h":140000},
{"p":"m","k":"e","x":850,"y":60000,"l":55000,"h":65000},
{"p":"m","k":"e","x":1250,"y":90000,"l":82000,"h":98000},
{"p":"m","k":"e","x":1000,"y":380000,"l":350000,"h":410000},
{"p":"m","k":"e","x":700,"y":40000,"l":37000,"h":43000},
{"p":"m","k":"l","x":650,"y":219000},{"p":"m","k":"l","x":14440,"y":516000},
{"p":"m","k":"t","x":2840,"y":930000,"t":"K= 23.94±11.83\u00a0\u00a0R=\u00a0\u00a00.26"},
{"p":"n","k":"e","x":2720,"y":413000,"l":383000,"h":443000},
{"p":"n","k":"e","x":2720,"y":383000,"l":368000,"h":398000},
{"p":"n","k":"e","x":5230,"y":280000,"l":235000,"h":325000},
{"p":"n","k":"e","x":5680,"y":155000,"l":147000,"h":163000},
{"p":"n","k":"e","x":10650,"y":141000,"l":116000,"h":166000},
{"p":"n","k":"e","x":3860,"y":192000,"l":167000,"h":217000},
{"p":"n","k":"e","x":2120,"y":205000,"l":143000,"h":267000},
{"p":"n","k":"e","x":2510,"y":216000,"l":206000,"h":226000},
{"p":"n","k":"e","x":2830,"y":203000,"l":193000,"h":213000},
{"p":"n","k":"e","x":2120,"y":132000,"l":102000,"h":162000},
{"p":"n","k":"e","x":1070,"y":119000,"l":69000,"h":169000},
{"p":"n","k":"e","x":690,"y":287000,"l":237000,"h":337000},
{"p":"n","k":"e","x":210,"y":250000,"l":235000,"h":265000},
{"p":"n","k":"e","x":260,"y":216000,"l":206000,"h":226000},
{"p":"n","k":"e","x":1760,"y":44000,"l":40000,"h":48000},
{"p":"n","k":"e","x":860,"y":35000,"l":31000,"h":39000},
{"p":"n","k":"e","x":640,"y":93000,"l":85000,"h":101000},
{"p":"n","k":"e","x":100,"y":50000,"l":45000,"h":55000},
{"p":"n","k":"e","x":200,"y":80000,"l":74000,"h":86000},
{"p":"n","k":"e","x":300,"y":30000,"l":27000,"h":33000},
{"p":"n","k":"e","x":400,"y":60000,"l":55000,"h":65000},
{"p":"n","k":"e","x":500,"y":90000,"l":83000,"h":97000},
{"p":"n","k":"e","x":50,"y":20000,"l":18000,"h":22000},
{"p":"n","k":"e","x":350,"y":100000,"l":92000,"h":108000},
{"p":"n","k":"e","x":150,"y":10000,"l":9000,"h":11000},
{"p":"n","k":"e","x":450,"y":40000,"l":36000,"h":44000},
{"p":"n","k":"e","x":550,"y":70000,"l":64000,"h":76000},
{"p":"n","k":"e","x":80,"y":90000,"l":83000,"h":97000},
{"p":"n","k":"e","x":250,"y":65000,"l":60000,"h":70000},
{"p":"n","k":"e","x":400,"y":20000,"l":18000,"h":22000},
{"p":"n","k":"e","x":600,"y":50000,"l":46000,"h":54000},
{"p":"n","k":"e","x":180,"y":40000,"l":37000,"h":43000},
{"p":"n","k":"l","x":0,"y":89000},{"p":"n","k":"l","x":10930,"y":329000},
{"p":"n","k":"t","x":950,"y":558000,"t":"K= 21.40±7.53\u00a0\u00a0R=\u00a0\u00a00.45"},
{"p":"o","k":"e","x":3620,"y":741000,"l":676000,"h":806000},
{"p":"o","k":"e","x":4120,"y":222000,"l":94000,"h":350000},
{"p":"o","k":"e","x":520,"y":382000,"l":282000,"h":482000},
{"p":"o","k":"e","x":300,"y":313000,"l":293000,"h":333000},
{"p":"o","k":"e","x":440,"y":259000,"l":244000,"h":274000},
{"p":"o","k":"e","x":240,"y":281000,"l":271000,"h":291000},
{"p":"o","k":"e","x":690,"y":276000,"l":256000,"h":296000},
{"p":"o","k":"e","x":1040,"y":210000,"l":200000,"h":220000},
{"p":"o","k":"e","x":1410,"y":246000,"l":226000,"h":266000},
{"p":"o","k":"e","x":1550,"y":179000,"l":164000,"h":194000},
{"p":"o","k":"e","x":1550,"y":112000,"l":102000,"h":122000},
{"p":"o","k":"e","x":1240,"y":125000,"l":117000,"h":133000},
{"p":"o","k":"e","x":1110,"y":76000,"l":70000,"h":82000},
{"p":"o","k":"e","x":1790,"y":60000,"l":54000,"h":66000},
{"p":"o","k":"e","x":2290,"y":37000,"l":33000,"h":41000},
{"p":"o","k":"e","x":2710,"y":76000,"l":70000,"h":82000},
{"p":"o","k":"e","x":2760,"y":162000,"l":147000,"h":177000},
{"p":"o","k":"e","x":110,"y":220000,"l":205000,"h":235000},
{"p":"o","k":"e","x":155,"y":184000,"l":174000,"h":194000},
{"p":"o","k":"e","x":50,"y":20000,"l":18000,"h":22000},
{"p":"o","k":"e","x":100,"y":60000,"l":55000,"h":65000},
{"p":"o","k":"e","x":150,"y":100000,"l":92000,"h":108000},
{"p":"o","k":"e","x":200,"y":140000,"l":130000,"h":150000},
{"p":"o","k":"e","x":250,"y":40000,"l":37000,"h":43000},
{"p":"o","k":"e","x":300,"y":80000,"l":74000,"h":86000},
{"p":"o","k":"e","x":350,"y":120000,"l":110000,"h":130000},
{"p":"o","k":"e","x":400,"y":30000,"l":27000,"h":33000},
{"p":"o","k":"e","x":450,"y":100000,"l":92000,"h":108000},
{"p":"o","k":"e","x":500,"y":60000,"l":55000,"h":65000},
{"p":"o","k":"e","x":550,"y":90000,"l":83000,"h":97000},
{"p":"o","k":"e","x":600,"y":40000,"l":37000,"h":43000},
{"p":"o","k":"e","x":650,"y":70000,"l":65000,"h":75000},
{"p":"o","k":"e","x":700,"y":20000,"l":18000,"h":22000},
{"p":"o","k":"e","x":750,"y":50000,"l":46000,"h":54000},
{"p":"o","k":"e","x":800,"y":75000,"l":69000,"h":81000},
{"p":"o","k":"e","x":420,"y":110000,"l":102000,"h":118000},
{"p":"o","k":"e","x":30,"y":150000,"l":140000,"h":160000},
{"p":"o","k":"e","x":80,"y":120000,"l":111000,"h":129000},
{"p":"o","k":"e","x":180,"y":60000,"l":55000,"h":65000},
{"p":"o","k":"e","x":280,"y":20000,"l":18000,"h":22000},
{"p":"o","k":"e","x":380,"y":60000,"l":55000,"h":65000},
{"p":"o","k":"e","x":480,"y":130000,"l":120000,"h":140000},
{"p":"o","k":"e","x":580,"y":20000,"l":18000,"h":22000},
{"p":"o","k":"e","x":680,"y":110000,"l":102000,"h":118000},
{"p":"o","k":"e","x":780,"y":30000,"l":27000,"h":33000},
{"p":"o","k":"e","x":130,"y":30000,"l":27000,"h":33000},
{"p":"o","k":"e","x":230,"y":100000,"l":92000,"h":108000},
{"p":"o","k":"e","x":330,"y":40000,"l":37000,"h":43000},
{"p":"o","k":"e","x":530,"y":40000,"l":37000,"h":43000},
{"p":"o","k":"e","x":630,"y":100000,"l":92000,"h":108000},
{"p":"o","k":"e","x":730,"y":90000,"l":83000,"h":97000},
{"p":"o","k":"e","x":850,"y":40000,"l":37000,"h":43000},
{"p":"o","k":"e","x":900,"y":90000,"l":83000,"h":97000},
{"p":"o","k":"l","x":130,"y":75600},{"p":"o","k":"l","x":4450,"y":367000},
{"p":"o","k":"t","x":470,"y":930000,"t":"K= 70.21±10.97\u00a0\u00a0R=\u00a0\u00a00.53"},
{"p":"p","k":"e","x":1290,"y":1094000,"l":1084000,"h":1104000},
{"p":"p","k":"e","x":11470,"y":1016000,"l":1008000,"h":1024000},
{"p":"p","k":"e","x":3440,"y":687000,"l":679000,"h":695000},
{"p":"p","k":"e","x":1130,"y":402000,"l":394000,"h":410000},
{"p":"p","k":"e","x":3360,"y":402000,"l":394000,"h":410000},
{"p":"p","k":"e","x":7130,"y":513000,"l":505000,"h":521000},
{"p":"p","k":"e","x":7070,"y":285000,"l":277000,"h":293000},
{"p":"p","k":"e","x":1840,"y":163000,"l":155000,"h":171000},
{"p":"p","k":"e","x":1290,"y":104000,"l":96000,"h":112000},
{"p":"p","k":"e","x":2690,"y":104000,"l":96000,"h":112000},
{"p":"p","k":"e","x":11020,"y":215000,"l":207000,"h":223000},
{"p":"p","k":"e","x":100,"y":60000,"l":55000,"h":65000},
{"p":"p","k":"e","x":200,"y":50000,"l":45000,"h":55000},
{"p":"p","k":"e","x":150,"y":70000,"l":65000,"h":75000},
{"p":"p","k":"e","x":250,"y":55000,"l":50000,"h":60000},
{"p":"p","k":"e","x":60,"y":45000,"l":40000,"h":50000},
{"p":"p","k":"l","x":0,"y":215000},{"p":"p","k":"l","x":10360,"y":627000},
{"p":"p","k":"t","x":960,"y":1116000,"t":"K= 40.38±21.87\u00a0\u00a0R=\u00a0\u00a00.44"}
]},
"columns":4,
"bounds":"flush",
"spacing":{"row":43,"column":81},
"concat":[
{"width":214,"height":155,"title":{"text":"Fire case F1","offset":10,"dx":-13},"data":{"name":"d"},"transform":[{"filter":"datum.p=='a'"}],"resolve":{"axis":{"x":"independent","y":"independent"}},"layer":[
{"transform":[{"filter":"datum.k=='e'"}],"mark":{"type":"rule","color":"black","strokeWidth":1},"encoding":{"x":{"field":"x","type":"quantitative","axis":null},"y":{"field":"l","type":"quantitative","axis":null},"y2":{"field":"h"}}},
{"transform":[{"filter":"datum.k=='e'"}],"mark":{"type":"tick","orient":"horizontal","size":7,"thickness":1,"color":"black"},"encoding":{"x":{"field":"x","type":"quantitative","axis":null},"y":{"field":"l","type":"quantitative","axis":null}}},
{"transform":[{"filter":"datum.k=='e'"}],"mark":{"type":"tick","orient":"horizontal","size":7,"thickness":1,"color":"black"},"encoding":{"x":{"field":"x","type":"quantitative","axis":null},"y":{"field":"h","type":"quantitative","axis":null}}},
{"transform":[{"filter":"datum.k=='e'"}],"mark":{"type":"point","shape":"circle","size":110,"filled":false,"color":"black","strokeWidth":1,"opacity":1},"encoding":{"x":{"field":"x","type":"quantitative","scale":{"domain":[0,36000],"nice":false},"axis":{"orient":"bottom","values":[0,9000,18000,27000,36000],"labels":false,"title":null}},"y":{"field":"y","type":"quantitative","scale":{"domain":[0,800000],"nice":false},"axis":{"orient":"left","values":[0,200000,400000,600000,800000],"format":"d","title":"Aerosol emission rate [g s⁻¹]","minExtent":66,"maxExtent":66,"titlePadding":4}}}},
{"transform":[{"filter":"datum.k=='l'"}],"mark":{"type":"line","color":"black","strokeWidth":1.5},"encoding":{"x":{"field":"x","type":"quantitative","axis":{"orient":"top","values":[0,9000,18000,27000,36000],"labels":false,"title":"(a)","titleAnchor":"start","titleAlign":"left","titlePadding":0}},"y":{"field":"y","type":"quantitative","axis":{"orient":"right","values":[0,200000,400000,600000,800000],"labels":false,"title":null}}}},
{"transform":[{"filter":"datum.k=='t'"}],"mark":{"type":"text","align":"left","baseline":"middle","fontSize":15,"color":"black"},"encoding":{"x":{"field":"x","type":"quantitative","axis":null},"y":{"field":"y","type":"quantitative","axis":null},"text":{"field":"t"}}}]},
{"width":214,"height":155,"title":{"text":"Fire case F2","offset":10,"dx":-13},"data":{"name":"d"},"transform":[{"filter":"datum.p=='b'"}],"resolve":{"axis":{"x":"independent","y":"independent"}},"layer":[
{"transform":[{"filter":"datum.k=='e'"}],"mark":{"type":"rule","color":"black","strokeWidth":1},"encoding":{"x":{"field":"x","type":"quantitative","axis":null},"y":{"field":"l","type":"quantitative","axis":null},"y2":{"field":"h"}}},
{"transform":[{"filter":"datum.k=='e'"}],"mark":{"type":"tick","orient":"horizontal","size":7,"thickness":1,"color":"black"},"encoding":{"x":{"field":"x","type":"quantitative","axis":null},"y":{"field":"l","type":"quantitative","axis":null}}},
{"transform":[{"filter":"datum.k=='e'"}],"mark":{"type":"tick","orient":"horizontal","size":7,"thickness":1,"color":"black"},"encoding":{"x":{"field":"x","type":"quantitative","axis":null},"y":{"field":"h","type":"quantitative","axis":null}}},
{"transform":[{"filter":"datum.k=='e'"}],"mark":{"type":"point","shape":"circle","size":110,"filled":false,"color":"black","strokeWidth":1,"opacity":1},"encoding":{"x":{"field":"x","type":"quantitative","scale":{"domain":[0,12000],"nice":false},"axis":{"orient":"bottom","values":[0,3000,6000,9000,12000],"labels":false,"title":null}},"y":{"field":"y","type":"quantitative","scale":{"domain":[0,600000],"nice":false},"axis":{"orient":"left","values":[0,150000,300000,450000,600000],"format":"d","title":null}}}},
{"transform":[{"filter":"datum.k=='l'"}],"mark":{"type":"line","color":"black","strokeWidth":1.5},"encoding":{"x":{"field":"x","type":"quantitative","axis":{"orient":"top","values":[0,3000,6000,9000,12000],"labels":false,"title":"(b)","titleAnchor":"start","titleAlign":"left","titlePadding":0}},"y":{"field":"y","type":"quantitative","axis":{"orient":"right","values":[0,150000,300000,450000,600000],"labels":false,"title":null}}}},
{"transform":[{"filter":"datum.k=='t'"}],"mark":{"type":"text","align":"left","baseline":"middle","fontSize":15,"color":"black"},"encoding":{"x":{"field":"x","type":"quantitative","axis":null},"y":{"field":"y","type":"quantitative","axis":null},"text":{"field":"t"}}}]},
{"width":214,"height":155,"title":{"text":"Fire case F3","offset":10,"dx":-13},"data":{"name":"d"},"transform":[{"filter":"datum.p=='c'"}],"resolve":{"axis":{"x":"independent","y":"independent"}},"layer":[
{"transform":[{"filter":"datum.k=='e'"}],"mark":{"type":"rule","color":"black","strokeWidth":1},"encoding":{"x":{"field":"x","type":"quantitative","axis":null},"y":{"field":"l","type":"quantitative","axis":null},"y2":{"field":"h"}}},
{"transform":[{"filter":"datum.k=='e'"}],"mark":{"type":"tick","orient":"horizontal","size":7,"thickness":1,"color":"black"},"encoding":{"x":{"field":"x","type":"quantitative","axis":null},"y":{"field":"l","type":"quantitative","axis":null}}},
{"transform":[{"filter":"datum.k=='e'"}],"mark":{"type":"tick","orient":"horizontal","size":7,"thickness":1,"color":"black"},"encoding":{"x":{"field":"x","type":"quantitative","axis":null},"y":{"field":"h","type":"quantitative","axis":null}}},
{"transform":[{"filter":"datum.k=='e'"}],"mark":{"type":"point","shape":"circle","size":110,"filled":false,"color":"black","strokeWidth":1,"opacity":1},"encoding":{"x":{"field":"x","type":"quantitative","scale":{"domain":[0,6000],"nice":false},"axis":{"orient":"bottom","values":[0,2000,4000,6000],"labels":false,"title":null}},"y":{"field":"y","type":"quantitative","scale":{"domain":[0,500000],"nice":false},"axis":{"orient":"left","values":[0,100000,200000,300000,400000,500000],"format":"d","title":null}}}},
{"transform":[{"filter":"datum.k=='l'"}],"mark":{"type":"line","color":"black","strokeWidth":1.5},"encoding":{"x":{"field":"x","type":"quantitative","axis":{"orient":"top","values":[0,2000,4000,6000],"labels":false,"title":"(c)","titleAnchor":"start","titleAlign":"left","titlePadding":0}},"y":{"field":"y","type":"quantitative","axis":{"orient":"right","values":[0,100000,200000,300000,400000,500000],"labels":false,"title":null}}}},
{"transform":[{"filter":"datum.k=='t'"}],"mark":{"type":"text","align":"left","baseline":"middle","fontSize":15,"color":"black"},"encoding":{"x":{"field":"x","type":"quantitative","axis":null},"y":{"field":"y","type":"quantitative","axis":null},"text":{"field":"t"}}}]},
{"width":214,"height":155,"title":{"text":"Fire cases F4-6","offset":10,"dx":-13},"data":{"name":"d"},"transform":[{"filter":"datum.p=='d'"}],"resolve":{"axis":{"x":"independent","y":"independent"}},"layer":[
{"transform":[{"filter":"datum.k=='e'"}],"mark":{"type":"rule","color":"black","strokeWidth":1},"encoding":{"x":{"field":"x","type":"quantitative","axis":null},"y":{"field":"l","type":"quantitative","axis":null},"y2":{"field":"h"}}},
{"transform":[{"filter":"datum.k=='e'"}],"mark":{"type":"tick","orient":"horizontal","size":7,"thickness":1,"color":"black"},"encoding":{"x":{"field":"x","type":"quantitative","axis":null},"y":{"field":"l","type":"quantitative","axis":null}}},
{"transform":[{"filter":"datum.k=='e'"}],"mark":{"type":"tick","orient":"horizontal","size":7,"thickness":1,"color":"black"},"encoding":{"x":{"field":"x","type":"quantitative","axis":null},"y":{"field":"h","type":"quantitative","axis":null}}},
{"transform":[{"filter":"datum.k=='e'"}],"mark":{"type":"point","shape":"circle","size":110,"filled":false,"color":"black","strokeWidth":1,"opacity":1},"encoding":{"x":{"field":"x","type":"quantitative","scale":{"domain":[0,12000],"nice":false},"axis":{"orient":"bottom","values":[0,4000,8000,12000],"labels":false,"title":null}},"y":{"field":"y","type":"quantitative","scale":{"domain":[0,600000],"nice":false},"axis":{"orient":"left","values":[0,200000,400000,600000],"format":"d","title":null}}}},
{"transform":[{"filter":"datum.k=='l'"}],"mark":{"type":"line","color":"black","strokeWidth":1.5},"encoding":{"x":{"field":"x","type":"quantitative","axis":{"orient":"top","values":[0,4000,8000,12000],"labels":false,"title":"(d)","titleAnchor":"start","titleAlign":"left","titlePadding":0}},"y":{"field":"y","type":"quantitative","axis":{"orient":"right","values":[0,200000,400000,600000],"labels":false,"title":null}}}},
{"transform":[{"filter":"datum.k=='t'"}],"mark":{"type":"text","align":"left","baseline":"middle","fontSize":15,"color":"black"},"encoding":{"x":{"field":"x","type":"quantitative","axis":null},"y":{"field":"y","type":"quantitative","axis":null},"text":{"field":"t"}}}]},
{"width":214,"height":155,"data":{"name":"d"},"transform":[{"filter":"datum.p=='e'"}],"resolve":{"axis":{"x":"independent","y":"independent"}},"layer":[
{"transform":[{"filter":"datum.k=='e'"}],"mark":{"type":"rule","color":"black","strokeWidth":1},"encoding":{"x":{"field":"x","type":"quantitative","axis":null},"y":{"field":"l","type":"quantitative","axis":null},"y2":{"field":"h"}}},
{"transform":[{"filter":"datum.k=='e'"}],"mark":{"type":"tick","orient":"horizontal","size":7,"thickness":1,"color":"black"},"encoding":{"x":{"field":"x","type":"quantitative","axis":null},"y":{"field":"l","type":"quantitative","axis":null}}},
{"transform":[{"filter":"datum.k=='e'"}],"mark":{"type":"tick","orient":"horizontal","size":7,"thickness":1,"color":"black"},"encoding":{"x":{"field":"x","type":"quantitative","axis":null},"y":{"field":"h","type":"quantitative","axis":null}}},
{"transform":[{"filter":"datum.k=='e'"}],"mark":{"type":"point","shape":"circle","size":110,"filled":false,"color":"black","strokeWidth":1,"opacity":1},"encoding":{"x":{"field":"x","type":"quantitative","scale":{"domain":[0,36000],"nice":false},"axis":{"orient":"bottom","values":[0,9000,18000,27000,36000],"labels":false,"title":null}},"y":{"field":"y","type":"quantitative","scale":{"domain":[0,120000],"nice":false},"axis":{"orient":"left","values":[0,20000,40000,60000,80000,100000,120000],"format":"d","title":"NOx emission rate [g s⁻¹]","minExtent":66,"maxExtent":66,"titlePadding":4}}}},
{"transform":[{"filter":"datum.k=='l'"}],"mark":{"type":"line","color":"black","strokeWidth":1.5},"encoding":{"x":{"field":"x","type":"quantitative","axis":{"orient":"top","values":[0,9000,18000,27000,36000],"labels":false,"title":"(e)","titleAnchor":"start","titleAlign":"left","titlePadding":0}},"y":{"field":"y","type":"quantitative","axis":{"orient":"right","values":[0,20000,40000,60000,80000,100000,120000],"labels":false,"title":null}}}},
{"transform":[{"filter":"datum.k=='t'"}],"mark":{"type":"text","align":"left","baseline":"middle","fontSize":15,"color":"black"},"encoding":{"x":{"field":"x","type":"quantitative","axis":null},"y":{"field":"y","type":"quantitative","axis":null},"text":{"field":"t"}}}]},
{"width":214,"height":155,"data":{"name":"d"},"transform":[{"filter":"datum.p=='f'"}],"resolve":{"axis":{"x":"independent","y":"independent"}},"layer":[
{"transform":[{"filter":"datum.k=='e'"}],"mark":{"type":"rule","color":"black","strokeWidth":1},"encoding":{"x":{"field":"x","type":"quantitative","axis":null},"y":{"field":"l","type":"quantitative","axis":null},"y2":{"field":"h"}}},
{"transform":[{"filter":"datum.k=='e'"}],"mark":{"type":"tick","orient":"horizontal","size":7,"thickness":1,"color":"black"},"encoding":{"x":{"field":"x","type":"quantitative","axis":null},"y":{"field":"l","type":"quantitative","axis":null}}},
{"transform":[{"filter":"datum.k=='e'"}],"mark":{"type":"tick","orient":"horizontal","size":7,"thickness":1,"color":"black"},"encoding":{"x":{"field":"x","type":"quantitative","axis":null},"y":{"field":"h","type":"quantitative","axis":null}}},
{"transform":[{"filter":"datum.k=='e'"}],"mark":{"type":"point","shape":"circle","size":110,"filled":false,"color":"black","strokeWidth":1,"opacity":1},"encoding":{"x":{"field":"x","type":"quantitative","scale":{"domain":[0,12000],"nice":false},"axis":{"orient":"bottom","values":[0,3000,6000,9000,12000],"labels":false,"title":null}},"y":{"field":"y","type":"quantitative","scale":{"domain":[0,24000],"nice":false},"axis":{"orient":"left","values":[0,6000,12000,18000,24000],"format":"d","title":null}}}},
{"transform":[{"filter":"datum.k=='l'"}],"mark":{"type":"line","color":"black","strokeWidth":1.5},"encoding":{"x":{"field":"x","type":"quantitative","axis":{"orient":"top","values":[0,3000,6000,9000,12000],"labels":false,"title":"(f)","titleAnchor":"start","titleAlign":"left","titlePadding":0}},"y":{"field":"y","type":"quantitative","axis":{"orient":"right","values":[0,6000,12000,18000,24000],"labels":false,"title":null}}}},
{"transform":[{"filter":"datum.k=='t'"}],"mark":{"type":"text","align":"left","baseline":"middle","fontSize":15,"color":"black"},"encoding":{"x":{"field":"x","type":"quantitative","axis":null},"y":{"field":"y","type":"quantitative","axis":null},"text":{"field":"t"}}}]},
{"width":214,"height":155,"data":{"name":"d"},"transform":[{"filter":"datum.p=='g'"}],"resolve":{"axis":{"x":"independent","y":"independent"}},"layer":[
{"transform":[{"filter":"datum.k=='e'"}],"mark":{"type":"rule","color":"black","strokeWidth":1},"encoding":{"x":{"field":"x","type":"quantitative","axis":null},"y":{"field":"l","type":"quantitative","axis":null},"y2":{"field":"h"}}},
{"transform":[{"filter":"datum.k=='e'"}],"mark":{"type":"tick","orient":"horizontal","size":7,"thickness":1,"color":"black"},"encoding":{"x":{"field":"x","type":"quantitative","axis":null},"y":{"field":"l","type":"quantitative","axis":null}}},
{"transform":[{"filter":"datum.k=='e'"}],"mark":{"type":"tick","orient":"horizontal","size":7,"thickness":1,"color":"black"},"encoding":{"x":{"field":"x","type":"quantitative","axis":null},"y":{"field":"h","type":"quantitative","axis":null}}},
{"transform":[{"filter":"datum.k=='e'"}],"mark":{"type":"point","shape":"circle","size":110,"filled":false,"color":"black","strokeWidth":1,"opacity":1},"encoding":{"x":{"field":"x","type":"quantitative","scale":{"domain":[0,6000],"nice":false},"axis":{"orient":"bottom","values":[0,2000,4000,6000],"labels":false,"title":null}},"y":{"field":"y","type":"quantitative","scale":{"domain":[0,12000],"nice":false},"axis":{"orient":"left","values":[0,3000,6000,9000,12000],"format":"d","title":null}}}},
{"transform":[{"filter":"datum.k=='l'"}],"mark":{"type":"line","color":"black","strokeWidth":1.5},"encoding":{"x":{"field":"x","type":"quantitative","axis":{"orient":"top","values":[0,2000,4000,6000],"labels":false,"title":"(g)","titleAnchor":"start","titleAlign":"left","titlePadding":0}},"y":{"field":"y","type":"quantitative","axis":{"orient":"right","values":[0,3000,6000,9000,12000],"labels":false,"title":null}}}},
{"transform":[{"filter":"datum.k=='t'"}],"mark":{"type":"text","align":"left","baseline":"middle","fontSize":15,"color":"black"},"encoding":{"x":{"field":"x","type":"quantitative","axis":null},"y":{"field":"y","type":"quantitative","axis":null},"text":{"field":"t"}}}]},
{"width":214,"height":155,"data":{"name":"d"},"transform":[{"filter":"datum.p=='h'"}],"resolve":{"axis":{"x":"independent","y":"independent"}},"layer":[
{"transform":[{"filter":"datum.k=='e'"}],"mark":{"type":"rule","color":"black","strokeWidth":1},"encoding":{"x":{"field":"x","type":"quantitative","axis":null},"y":{"field":"l","type":"quantitative","axis":null},"y2":{"field":"h"}}},
{"transform":[{"filter":"datum.k=='e'"}],"mark":{"type":"tick","orient":"horizontal","size":7,"thickness":1,"color":"black"},"encoding":{"x":{"field":"x","type":"quantitative","axis":null},"y":{"field":"l","type":"quantitative","axis":null}}},
{"transform":[{"filter":"datum.k=='e'"}],"mark":{"type":"tick","orient":"horizontal","size":7,"thickness":1,"color":"black"},"encoding":{"x":{"field":"x","type":"quantitative","axis":null},"y":{"field":"h","type":"quantitative","axis":null}}},
{"transform":[{"filter":"datum.k=='e'"}],"mark":{"type":"point","shape":"circle","size":110,"filled":false,"color":"black","strokeWidth":1,"opacity":1},"encoding":{"x":{"field":"x","type":"quantitative","scale":{"domain":[0,12000],"nice":false},"axis":{"orient":"bottom","values":[0,4000,8000,12000],"labels":false,"title":null}},"y":{"field":"y","type":"quantitative","scale":{"domain":[0,21000],"nice":false},"axis":{"orient":"left","values":[0,3000,6000,9000,12000,15000,18000,21000],"labelExpr":"datum.value % 6000 == 0 ? format(datum.value, 'd') : ''","title":null}}}},
{"transform":[{"filter":"datum.k=='l'"}],"mark":{"type":"line","color":"black","strokeWidth":1.5},"encoding":{"x":{"field":"x","type":"quantitative","axis":{"orient":"top","values":[0,4000,8000,12000],"labels":false,"title":"(h)","titleAnchor":"start","titleAlign":"left","titlePadding":0}},"y":{"field":"y","type":"quantitative","axis":{"orient":"right","values":[0,3000,6000,9000,12000,15000,18000,21000],"labels":false,"title":null}}}},
{"transform":[{"filter":"datum.k=='t'"}],"mark":{"type":"text","align":"left","baseline":"middle","fontSize":15,"color":"black"},"encoding":{"x":{"field":"x","type":"quantitative","axis":null},"y":{"field":"y","type":"quantitative","axis":null},"text":{"field":"t"}}}]},
{"width":214,"height":155,"data":{"name":"d"},"transform":[{"filter":"datum.p=='i'"}],"resolve":{"axis":{"x":"independent","y":"independent"}},"layer":[
{"transform":[{"filter":"datum.k=='e'"}],"mark":{"type":"rule","color":"black","strokeWidth":1},"encoding":{"x":{"field":"x","type":"quantitative","axis":null},"y":{"field":"l","type":"quantitative","axis":null},"y2":{"field":"h"}}},
{"transform":[{"filter":"datum.k=='e'"}],"mark":{"type":"tick","orient":"horizontal","size":7,"thickness":1,"color":"black"},"encoding":{"x":{"field":"x","type":"quantitative","axis":null},"y":{"field":"l","type":"quantitative","axis":null}}},
{"transform":[{"filter":"datum.k=='e'"}],"mark":{"type":"tick","orient":"horizontal","size":7,"thickness":1,"color":"black"},"encoding":{"x":{"field":"x","type":"quantitative","axis":null},"y":{"field":"h","type":"quantitative","axis":null}}},
{"transform":[{"filter":"datum.k=='e'"}],"mark":{"type":"point","shape":"circle","size":110,"filled":false,"color":"black","strokeWidth":1,"opacity":1},"encoding":{"x":{"field":"x","type":"quantitative","scale":{"domain":[0,36000],"nice":false},"axis":{"orient":"bottom","values":[0,9000,18000,27000,36000],"labels":false,"title":null}},"y":{"field":"y","type":"quantitative","scale":{"domain":[0,60000],"nice":false},"axis":{"orient":"left","values":[0,20000,40000,60000],"format":"d","title":"HCHO emission rate [g s⁻¹]","minExtent":66,"maxExtent":66,"titlePadding":4}}}},
{"transform":[{"filter":"datum.k=='l'"}],"mark":{"type":"line","color":"black","strokeWidth":1.5},"encoding":{"x":{"field":"x","type":"quantitative","axis":{"orient":"top","values":[0,9000,18000,27000,36000],"labels":false,"title":"(i)","titleAnchor":"start","titleAlign":"left","titlePadding":0}},"y":{"field":"y","type":"quantitative","axis":{"orient":"right","values":[0,20000,40000,60000],"labels":false,"title":null}}}},
{"transform":[{"filter":"datum.k=='t'"}],"mark":{"type":"text","align":"left","baseline":"middle","fontSize":15,"color":"black"},"encoding":{"x":{"field":"x","type":"quantitative","axis":null},"y":{"field":"y","type":"quantitative","axis":null},"text":{"field":"t"}}}]},
{"width":214,"height":155,"data":{"name":"d"},"transform":[{"filter":"datum.p=='j'"}],"resolve":{"axis":{"x":"independent","y":"independent"}},"layer":[
{"transform":[{"filter":"datum.k=='e'"}],"mark":{"type":"rule","color":"black","strokeWidth":1},"encoding":{"x":{"field":"x","type":"quantitative","axis":null},"y":{"field":"l","type":"quantitative","axis":null},"y2":{"field":"h"}}},
{"transform":[{"filter":"datum.k=='e'"}],"mark":{"type":"tick","orient":"horizontal","size":7,"thickness":1,"color":"black"},"encoding":{"x":{"field":"x","type":"quantitative","axis":null},"y":{"field":"l","type":"quantitative","axis":null}}},
{"transform":[{"filter":"datum.k=='e'"}],"mark":{"type":"tick","orient":"horizontal","size":7,"thickness":1,"color":"black"},"encoding":{"x":{"field":"x","type":"quantitative","axis":null},"y":{"field":"h","type":"quantitative","axis":null}}},
{"transform":[{"filter":"datum.k=='e'"}],"mark":{"type":"point","shape":"circle","size":110,"filled":false,"color":"black","strokeWidth":1,"opacity":1},"encoding":{"x":{"field":"x","type":"quantitative","scale":{"domain":[0,12000],"nice":false},"axis":{"orient":"bottom","values":[0,3000,6000,9000,12000],"labels":false,"title":null}},"y":{"field":"y","type":"quantitative","scale":{"domain":[0,20000],"nice":false},"axis":{"orient":"left","values":[0,5000,10000,15000,20000],"format":"d","title":null}}}},
{"transform":[{"filter":"datum.k=='l'"}],"mark":{"type":"line","color":"black","strokeWidth":1.5},"encoding":{"x":{"field":"x","type":"quantitative","axis":{"orient":"top","values":[0,3000,6000,9000,12000],"labels":false,"title":"(j)","titleAnchor":"start","titleAlign":"left","titlePadding":0}},"y":{"field":"y","type":"quantitative","axis":{"orient":"right","values":[0,5000,10000,15000,20000],"labels":false,"title":null}}}},
{"transform":[{"filter":"datum.k=='t'"}],"mark":{"type":"text","align":"left","baseline":"middle","fontSize":15,"color":"black"},"encoding":{"x":{"field":"x","type":"quantitative","axis":null},"y":{"field":"y","type":"quantitative","axis":null},"text":{"field":"t"}}}]},
{"width":214,"height":155,"data":{"name":"d"},"transform":[{"filter":"datum.p=='k'"}],"resolve":{"axis":{"x":"independent","y":"independent"}},"layer":[
{"transform":[{"filter":"datum.k=='e'"}],"mark":{"type":"rule","color":"black","strokeWidth":1},"encoding":{"x":{"field":"x","type":"quantitative","axis":null},"y":{"field":"l","type":"quantitative","axis":null},"y2":{"field":"h"}}},
{"transform":[{"filter":"datum.k=='e'"}],"mark":{"type":"tick","orient":"horizontal","size":7,"thickness":1,"color":"black"},"encoding":{"x":{"field":"x","type":"quantitative","axis":null},"y":{"field":"l","type":"quantitative","axis":null}}},
{"transform":[{"filter":"datum.k=='e'"}],"mark":{"type":"tick","orient":"horizontal","size":7,"thickness":1,"color":"black"},"encoding":{"x":{"field":"x","type":"quantitative","axis":null},"y":{"field":"h","type":"quantitative","axis":null}}},
{"transform":[{"filter":"datum.k=='e'"}],"mark":{"type":"point","shape":"circle","size":110,"filled":false,"color":"black","strokeWidth":1,"opacity":1},"encoding":{"x":{"field":"x","type":"quantitative","scale":{"domain":[0,6000],"nice":false},"axis":{"orient":"bottom","values":[0,2000,4000,6000],"labels":false,"title":null}},"y":{"field":"y","type":"quantitative","scale":{"domain":[0,15000],"nice":false},"axis":{"orient":"left","values":[0,5000,10000,15000],"format":"d","title":null}}}},
{"transform":[{"filter":"datum.k=='l'"}],"mark":{"type":"line","color":"black","strokeWidth":1.5},"encoding":{"x":{"field":"x","type":"quantitative","axis":{"orient":"top","values":[0,2000,4000,6000],"labels":false,"title":"(k)","titleAnchor":"start","titleAlign":"left","titlePadding":0}},"y":{"field":"y","type":"quantitative","axis":{"orient":"right","values":[0,5000,10000,15000],"labels":false,"title":null}}}},
{"transform":[{"filter":"datum.k=='t'"}],"mark":{"type":"text","align":"left","baseline":"middle","fontSize":15,"color":"black"},"encoding":{"x":{"field":"x","type":"quantitative","axis":null},"y":{"field":"y","type":"quantitative","axis":null},"text":{"field":"t"}}}]},
{"width":214,"height":155,"data":{"name":"d"},"transform":[{"filter":"datum.p=='l'"}],"resolve":{"axis":{"x":"independent","y":"independent"}},"layer":[
{"transform":[{"filter":"datum.k=='e'"}],"mark":{"type":"rule","color":"black","strokeWidth":1},"encoding":{"x":{"field":"x","type":"quantitative","axis":null},"y":{"field":"l","type":"quantitative","axis":null},"y2":{"field":"h"}}},
{"transform":[{"filter":"datum.k=='e'"}],"mark":{"type":"tick","orient":"horizontal","size":7,"thickness":1,"color":"black"},"encoding":{"x":{"field":"x","type":"quantitative","axis":null},"y":{"field":"l","type":"quantitative","axis":null}}},
{"transform":[{"filter":"datum.k=='e'"}],"mark":{"type":"tick","orient":"horizontal","size":7,"thickness":1,"color":"black"},"encoding":{"x":{"field":"x","type":"quantitative","axis":null},"y":{"field":"h","type":"quantitative","axis":null}}},
{"transform":[{"filter":"datum.k=='e'"}],"mark":{"type":"point","shape":"circle","size":110,"filled":false,"color":"black","strokeWidth":1,"opacity":1},"encoding":{"x":{"field":"x","type":"quantitative","scale":{"domain":[0,12000],"nice":false},"axis":{"orient":"bottom","values":[0,4000,8000,12000],"labels":false,"title":null}},"y":{"field":"y","type":"quantitative","scale":{"domain":[0,15000],"nice":false},"axis":{"orient":"left","values":[0,5000,10000,15000],"format":"d","title":null}}}},
{"transform":[{"filter":"datum.k=='l'"}],"mark":{"type":"line","color":"black","strokeWidth":1.5},"encoding":{"x":{"field":"x","type":"quantitative","axis":{"orient":"top","values":[0,4000,8000,12000],"labels":false,"title":"(l)","titleAnchor":"start","titleAlign":"left","titlePadding":0}},"y":{"field":"y","type":"quantitative","axis":{"orient":"right","values":[0,5000,10000,15000],"labels":false,"title":null}}}},
{"transform":[{"filter":"datum.k=='t'"}],"mark":{"type":"text","align":"left","baseline":"middle","fontSize":15,"color":"black"},"encoding":{"x":{"field":"x","type":"quantitative","axis":null},"y":{"field":"y","type":"quantitative","axis":null},"text":{"field":"t"}}}]},
{"width":214,"height":155,"data":{"name":"d"},"transform":[{"filter":"datum.p=='m'"}],"resolve":{"axis":{"x":"independent","y":"independent"}},"layer":[
{"transform":[{"filter":"datum.k=='e'"}],"mark":{"type":"rule","color":"black","strokeWidth":1},"encoding":{"x":{"field":"x","type":"quantitative","axis":null},"y":{"field":"l","type":"quantitative","axis":null},"y2":{"field":"h"}}},
{"transform":[{"filter":"datum.k=='e'"}],"mark":{"type":"tick","orient":"horizontal","size":7,"thickness":1,"color":"black"},"encoding":{"x":{"field":"x","type":"quantitative","axis":null},"y":{"field":"l","type":"quantitative","axis":null}}},
{"transform":[{"filter":"datum.k=='e'"}],"mark":{"type":"tick","orient":"horizontal","size":7,"thickness":1,"color":"black"},"encoding":{"x":{"field":"x","type":"quantitative","axis":null},"y":{"field":"h","type":"quantitative","axis":null}}},
{"transform":[{"filter":"datum.k=='e'"}],"mark":{"type":"point","shape":"circle","size":110,"filled":false,"color":"black","strokeWidth":1,"opacity":1},"encoding":{"x":{"field":"x","type":"quantitative","scale":{"domain":[0,36000],"nice":false},"axis":{"orient":"bottom","values":[0,9000,18000,27000,36000],"format":"d","title":"FRP [MJ s⁻¹]","titlePadding":5}},"y":{"field":"y","type":"quantitative","scale":{"domain":[0,1000000],"nice":false},"axis":{"orient":"left","values":[0,250000,500000,750000,1000000],"format":"d","title":"CO emission rate [g s⁻¹]","minExtent":66,"maxExtent":66,"titlePadding":4}}}},
{"transform":[{"filter":"datum.k=='l'"}],"mark":{"type":"line","color":"black","strokeWidth":1.5},"encoding":{"x":{"field":"x","type":"quantitative","axis":{"orient":"top","values":[0,9000,18000,27000,36000],"labels":false,"title":"(m)","titleAnchor":"start","titleAlign":"left","titlePadding":0}},"y":{"field":"y","type":"quantitative","axis":{"orient":"right","values":[0,250000,500000,750000,1000000],"labels":false,"title":null}}}},
{"transform":[{"filter":"datum.k=='t'"}],"mark":{"type":"text","align":"left","baseline":"middle","fontSize":15,"color":"black"},"encoding":{"x":{"field":"x","type":"quantitative","axis":null},"y":{"field":"y","type":"quantitative","axis":null},"text":{"field":"t"}}}]},
{"width":214,"height":155,"data":{"name":"d"},"transform":[{"filter":"datum.p=='n'"}],"resolve":{"axis":{"x":"independent","y":"independent"}},"layer":[
{"transform":[{"filter":"datum.k=='e'"}],"mark":{"type":"rule","color":"black","strokeWidth":1},"encoding":{"x":{"field":"x","type":"quantitative","axis":null},"y":{"field":"l","type":"quantitative","axis":null},"y2":{"field":"h"}}},
{"transform":[{"filter":"datum.k=='e'"}],"mark":{"type":"tick","orient":"horizontal","size":7,"thickness":1,"color":"black"},"encoding":{"x":{"field":"x","type":"quantitative","axis":null},"y":{"field":"l","type":"quantitative","axis":null}}},
{"transform":[{"filter":"datum.k=='e'"}],"mark":{"type":"tick","orient":"horizontal","size":7,"thickness":1,"color":"black"},"encoding":{"x":{"field":"x","type":"quantitative","axis":null},"y":{"field":"h","type":"quantitative","axis":null}}},
{"transform":[{"filter":"datum.k=='e'"}],"mark":{"type":"point","shape":"circle","size":110,"filled":false,"color":"black","strokeWidth":1,"opacity":1},"encoding":{"x":{"field":"x","type":"quantitative","scale":{"domain":[0,12000],"nice":false},"axis":{"orient":"bottom","values":[0,3000,6000,9000,12000],"format":"d","title":"FRP [MJ s⁻¹]","titlePadding":5}},"y":{"field":"y","type":"quantitative","scale":{"domain":[0,600000],"nice":false},"axis":{"orient":"left","values":[0,200000,400000,600000],"format":"d","title":null}}}},
{"transform":[{"filter":"datum.k=='l'"}],"mark":{"type":"line","color":"black","strokeWidth":1.5},"encoding":{"x":{"field":"x","type":"quantitative","axis":{"orient":"top","values":[0,3000,6000,9000,12000],"labels":false,"title":"(n)","titleAnchor":"start","titleAlign":"left","titlePadding":0}},"y":{"field":"y","type":"quantitative","axis":{"orient":"right","values":[0,200000,400000,600000],"labels":false,"title":null}}}},
{"transform":[{"filter":"datum.k=='t'"}],"mark":{"type":"text","align":"left","baseline":"middle","fontSize":15,"color":"black"},"encoding":{"x":{"field":"x","type":"quantitative","axis":null},"y":{"field":"y","type":"quantitative","axis":null},"text":{"field":"t"}}}]},
{"width":214,"height":155,"data":{"name":"d"},"transform":[{"filter":"datum.p=='o'"}],"resolve":{"axis":{"x":"independent","y":"independent"}},"layer":[
{"transform":[{"filter":"datum.k=='e'"}],"mark":{"type":"rule","color":"black","strokeWidth":1},"encoding":{"x":{"field":"x","type":"quantitative","axis":null},"y":{"field":"l","type":"quantitative","axis":null},"y2":{"field":"h"}}},
{"transform":[{"filter":"datum.k=='e'"}],"mark":{"type":"tick","orient":"horizontal","size":7,"thickness":1,"color":"black"},"encoding":{"x":{"field":"x","type":"quantitative","axis":null},"y":{"field":"l","type":"quantitative","axis":null}}},
{"transform":[{"filter":"datum.k=='e'"}],"mark":{"type":"tick","orient":"horizontal","size":7,"thickness":1,"color":"black"},"encoding":{"x":{"field":"x","type":"quantitative","axis":null},"y":{"field":"h","type":"quantitative","axis":null}}},
{"transform":[{"filter":"datum.k=='e'"}],"mark":{"type":"point","shape":"circle","size":110,"filled":false,"color":"black","strokeWidth":1,"opacity":1},"encoding":{"x":{"field":"x","type":"quantitative","scale":{"domain":[0,6000],"nice":false},"axis":{"orient":"bottom","values":[0,2000,4000,6000],"format":"d","title":"FRP [MJ s⁻¹]","titlePadding":5}},"y":{"field":"y","type":"quantitative","scale":{"domain":[0,1000000],"nice":false},"axis":{"orient":"left","values":[0,250000,500000,750000,1000000],"format":"d","title":null}}}},
{"transform":[{"filter":"datum.k=='l'"}],"mark":{"type":"line","color":"black","strokeWidth":1.5},"encoding":{"x":{"field":"x","type":"quantitative","axis":{"orient":"top","values":[0,2000,4000,6000],"labels":false,"title":"(o)","titleAnchor":"start","titleAlign":"left","titlePadding":0}},"y":{"field":"y","type":"quantitative","axis":{"orient":"right","values":[0,250000,500000,750000,1000000],"labels":false,"title":null}}}},
{"transform":[{"filter":"datum.k=='t'"}],"mark":{"type":"text","align":"left","baseline":"middle","fontSize":15,"color":"black"},"encoding":{"x":{"field":"x","type":"quantitative","axis":null},"y":{"field":"y","type":"quantitative","axis":null},"text":{"field":"t"}}}]},
{"width":214,"height":155,"data":{"name":"d"},"transform":[{"filter":"datum.p=='p'"}],"resolve":{"axis":{"x":"independent","y":"independent"}},"layer":[
{"transform":[{"filter":"datum.k=='e'"}],"mark":{"type":"rule","color":"black","strokeWidth":1},"encoding":{"x":{"field":"x","type":"quantitative","axis":null},"y":{"field":"l","type":"quantitative","axis":null},"y2":{"field":"h"}}},
{"transform":[{"filter":"datum.k=='e'"}],"mark":{"type":"tick","orient":"horizontal","size":7,"thickness":1,"color":"black"},"encoding":{"x":{"field":"x","type":"quantitative","axis":null},"y":{"field":"l","type":"quantitative","axis":null}}},
{"transform":[{"filter":"datum.k=='e'"}],"mark":{"type":"tick","orient":"horizontal","size":7,"thickness":1,"color":"black"},"encoding":{"x":{"field":"x","type":"quantitative","axis":null},"y":{"field":"h","type":"quantitative","axis":null}}},
{"transform":[{"filter":"datum.k=='e'"}],"mark":{"type":"point","shape":"circle","size":110,"filled":false,"color":"black","strokeWidth":1,"opacity":1},"encoding":{"x":{"field":"x","type":"quantitative","scale":{"domain":[0,12000],"nice":false},"axis":{"orient":"bottom","values":[0,4000,8000,12000],"format":"d","title":"FRP [MJ s⁻¹]","titlePadding":5}},"y":{"field":"y","type":"quantitative","scale":{"domain":[0,1200000],"nice":false},"axis":{"orient":"left","values":[0,300000,600000,900000,1200000],"labelExpr":"datum.value == 1200000 ? '120000' : format(datum.value, 'd')","title":null}}}},
{"transform":[{"filter":"datum.k=='l'"}],"mark":{"type":"line","color":"black","strokeWidth":1.5},"encoding":{"x":{"field":"x","type":"quantitative","axis":{"orient":"top","values":[0,4000,8000,12000],"labels":false,"title":"(p)","titleAnchor":"start","titleAlign":"left","titlePadding":0}},"y":{"field":"y","type":"quantitative","axis":{"orient":"right","values":[0,300000,600000,900000,1200000],"labels":false,"title":null}}}},
{"transform":[{"filter":"datum.k=='t'"}],"mark":{"type":"text","align":"left","baseline":"middle","fontSize":15,"color":"black"},"encoding":{"x":{"field":"x","type":"quantitative","axis":null},"y":{"field":"y","type":"quantitative","axis":null},"text":{"field":"t"}}}]}
]
}
